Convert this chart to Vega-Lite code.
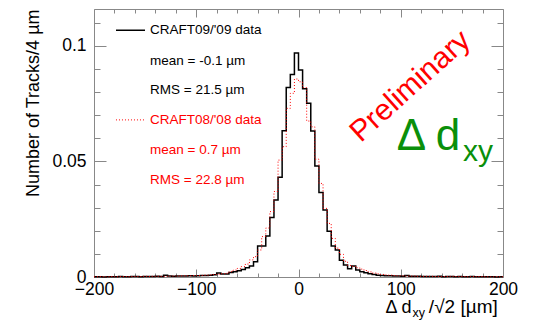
{
  "$schema": "https://vega.github.io/schema/vega-lite/v6.json",
  "width": 409,
  "height": 268,
  "autosize": {"type": "none"},
  "padding": {"left": 94, "top": 9, "right": 32, "bottom": 45},
  "background": "white",
  "config": {"view": {"stroke": null}, "font": "Liberation Sans"},
  "data": {"values": [
    {"x": -200, "b": 0.0001, "r": 0.0001}, {"x": -196, "b": 0.0001, "r": 0.0002}, {"x": -192, "b": 0.0000, "r": 0.0001}, {"x": -188, "b": 0.0001, "r": 0.0001},
    {"x": -184, "b": 0.0001, "r": 0.0002}, {"x": -180, "b": 0.0001, "r": 0.0001}, {"x": -176, "b": 0.0002, "r": 0.0002}, {"x": -172, "b": 0.0001, "r": 0.0002},
    {"x": -168, "b": 0.0001, "r": 0.0001}, {"x": -164, "b": 0.0002, "r": 0.0002}, {"x": -160, "b": 0.0002, "r": 0.0002}, {"x": -156, "b": 0.0001, "r": 0.0002},
    {"x": -152, "b": 0.0002, "r": 0.0003}, {"x": -148, "b": 0.0002, "r": 0.0002}, {"x": -144, "b": 0.0002, "r": 0.0003}, {"x": -140, "b": 0.0003, "r": 0.0003},
    {"x": -136, "b": 0.0002, "r": 0.0003}, {"x": -132, "b": 0.0008, "r": 0.0003}, {"x": -128, "b": 0.0004, "r": 0.0004}, {"x": -124, "b": 0.0003, "r": 0.0004},
    {"x": -120, "b": 0.0004, "r": 0.0004}, {"x": -116, "b": 0.0004, "r": 0.0005}, {"x": -112, "b": 0.0004, "r": 0.0005}, {"x": -108, "b": 0.0005, "r": 0.0005},
    {"x": -104, "b": 0.0004, "r": 0.0006}, {"x": -100, "b": 0.0005, "r": 0.0006}, {"x": -96, "b": 0.0006, "r": 0.0007}, {"x": -92, "b": 0.0007, "r": 0.0008},
    {"x": -88, "b": 0.0008, "r": 0.0009}, {"x": -84, "b": 0.0010, "r": 0.0011}, {"x": -80, "b": 0.0017, "r": 0.0012}, {"x": -76, "b": 0.0013, "r": 0.0014},
    {"x": -72, "b": 0.0013, "r": 0.0016}, {"x": -68, "b": 0.0019, "r": 0.0023}, {"x": -64, "b": 0.0023, "r": 0.0030}, {"x": -60, "b": 0.0027, "r": 0.0037},
    {"x": -56, "b": 0.0032, "r": 0.0045}, {"x": -52, "b": 0.0040, "r": 0.0056}, {"x": -48, "b": 0.0048, "r": 0.0074}, {"x": -44, "b": 0.0066, "r": 0.0088},
    {"x": -40, "b": 0.0134, "r": 0.0117}, {"x": -36, "b": 0.0134, "r": 0.0175}, {"x": -32, "b": 0.0177, "r": 0.0212}, {"x": -28, "b": 0.0258, "r": 0.0283},
    {"x": -24, "b": 0.0333, "r": 0.0370}, {"x": -20, "b": 0.0432, "r": 0.0506}, {"x": -16, "b": 0.0633, "r": 0.0564}, {"x": -12, "b": 0.0820, "r": 0.0730},
    {"x": -8, "b": 0.0877, "r": 0.0795}, {"x": -4, "b": 0.0970, "r": 0.0857}, {"x": 0, "b": 0.0896, "r": 0.0845}, {"x": 4, "b": 0.0815, "r": 0.0820},
    {"x": 8, "b": 0.0752, "r": 0.0675}, {"x": 12, "b": 0.0632, "r": 0.0650}, {"x": 16, "b": 0.0480, "r": 0.0510}, {"x": 20, "b": 0.0366, "r": 0.0405},
    {"x": 24, "b": 0.0290, "r": 0.0297}, {"x": 28, "b": 0.0198, "r": 0.0232}, {"x": 32, "b": 0.0134, "r": 0.0167}, {"x": 36, "b": 0.0117, "r": 0.0125},
    {"x": 40, "b": 0.0072, "r": 0.0098}, {"x": 44, "b": 0.0052, "r": 0.0068}, {"x": 48, "b": 0.0036, "r": 0.0050}, {"x": 52, "b": 0.0048, "r": 0.0046},
    {"x": 56, "b": 0.0030, "r": 0.0040}, {"x": 60, "b": 0.0023, "r": 0.0034}, {"x": 64, "b": 0.0018, "r": 0.0028}, {"x": 68, "b": 0.0014, "r": 0.0022},
    {"x": 72, "b": 0.0011, "r": 0.0017}, {"x": 76, "b": 0.0008, "r": 0.0014}, {"x": 80, "b": 0.0006, "r": 0.0011}, {"x": 84, "b": 0.0005, "r": 0.0009},
    {"x": 88, "b": 0.0005, "r": 0.0008}, {"x": 92, "b": 0.0004, "r": 0.0006}, {"x": 96, "b": 0.0004, "r": 0.0005}, {"x": 100, "b": 0.0003, "r": 0.0005},
    {"x": 104, "b": 0.0006, "r": 0.0004}, {"x": 108, "b": 0.0003, "r": 0.0004}, {"x": 112, "b": 0.0003, "r": 0.0004}, {"x": 116, "b": 0.0003, "r": 0.0003},
    {"x": 120, "b": 0.0002, "r": 0.0003}, {"x": 124, "b": 0.0002, "r": 0.0003}, {"x": 128, "b": 0.0002, "r": 0.0003}, {"x": 132, "b": 0.0002, "r": 0.0002},
    {"x": 136, "b": 0.0003, "r": 0.0002}, {"x": 140, "b": 0.0001, "r": 0.0002}, {"x": 144, "b": 0.0002, "r": 0.0002}, {"x": 148, "b": 0.0002, "r": 0.0003},
    {"x": 152, "b": 0.0001, "r": 0.0002}, {"x": 156, "b": 0.0002, "r": 0.0002}, {"x": 160, "b": 0.0001, "r": 0.0002}, {"x": 164, "b": 0.0001, "r": 0.0001},
    {"x": 168, "b": 0.0002, "r": 0.0002}, {"x": 172, "b": 0.0001, "r": 0.0001}, {"x": 176, "b": 0.0001, "r": 0.0002}, {"x": 180, "b": 0.0001, "r": 0.0001},
    {"x": 184, "b": 0.0001, "r": 0.0001}, {"x": 188, "b": 0.0001, "r": 0.0001}, {"x": 192, "b": 0.0000, "r": 0.0001}, {"x": 196, "b": 0.0001, "r": 0.0001},
    {"x": 200, "b": 0.0001, "r": 0.0001}
  ]},
  "resolve": {"axis": {"x": "independent", "y": "independent"}},
  "layer": [
    {
      "mark": {"type": "line", "interpolate": "step-after", "color": "black", "strokeWidth": 1.5},
      "encoding": {
        "x": {"field": "x", "type": "quantitative",
          "scale": {"domain": [-200, 200], "nice": false, "zero": false},
          "axis": {"orient": "bottom", "title": null, "grid": false,
            "values": [-200,-180,-160,-140,-120,-100,-80,-60,-40,-20,0,20,40,60,80,100,120,140,160,180,200],
            "tickSize": {"condition": {"test": "datum.value % 100 === 0", "value": -8}, "value": -4},
            "labelExpr": "datum.value % 100 === 0 ? datum.label : ''",
            "labelFontSize": 17.5, "labelColor": "black", "labelPadding": 11, "labelFlush": false, "labelOverlap": false,
            "tickColor": "#888", "domainColor": "#888", "tickWidth": 1, "domainWidth": 1}},
        "y": {"field": "b", "type": "quantitative",
          "scale": {"domain": [0, 0.116], "nice": false, "zero": true},
          "axis": {"orient": "left", "grid": false,
            "values": [0,0.01,0.02,0.03,0.04,0.05,0.06,0.07,0.08,0.09,0.1,0.11],
            "tickSize": {"condition": {"test": "round(datum.value*100) % 5 === 0", "value": -12}, "value": -6},
            "labelExpr": "round(datum.value*100) % 5 === 0 ? format(datum.value, '.2~f') : ''",
            "labelFontSize": 17.5, "labelColor": "black", "labelPadding": 20, "labelFlush": false, "labelOverlap": false,
            "tickColor": "#888", "domainColor": "#888", "tickWidth": 1, "domainWidth": 1,
            "title": "Number of Tracks/4 µm", "titleFontSize": 18, "titleFontWeight": "normal", "titleColor": "black",
            "titleAngle": -90, "titleX": -56, "titleY": 0, "titleAlign": "right", "titleBaseline": "alphabetic", "titleAnchor": "end"}}
      }
    },
    {
      "mark": {"type": "line", "interpolate": "step-after", "color": "#ff0000", "strokeWidth": 1, "strokeDash": [1, 2]},
      "encoding": {
        "x": {"field": "x", "type": "quantitative",
          "axis": {"orient": "top", "title": null, "grid": false, "labels": false,
            "values": [-200,-180,-160,-140,-120,-100,-80,-60,-40,-20,0,20,40,60,80,100,120,140,160,180,200],
            "tickSize": {"condition": {"test": "datum.value % 100 === 0", "value": -8}, "value": -4},
            "tickColor": "#888", "domainColor": "#888", "tickWidth": 1, "domainWidth": 1}},
        "y": {"field": "r", "type": "quantitative",
          "axis": {"orient": "right", "title": null, "grid": false, "labels": false,
            "values": [0,0.01,0.02,0.03,0.04,0.05,0.06,0.07,0.08,0.09,0.1,0.11],
            "tickSize": {"condition": {"test": "round(datum.value*100) % 5 === 0", "value": -12}, "value": -6},
            "tickColor": "#888", "domainColor": "#888", "tickWidth": 1, "domainWidth": 1}}
      }
    },
    {
      "data": {"values": [{}]},
      "mark": {"type": "rule", "color": "black", "strokeWidth": 1.5},
      "encoding": {"x": {"datum": -178.5, "type": "quantitative", "axis": null}, "x2": {"datum": -150.1}, "y": {"datum": 0.1068, "type": "quantitative", "axis": null}}
    },
    {
      "data": {"values": [{}]},
      "mark": {"type": "rule", "color": "#ff0000", "strokeWidth": 1, "strokeDash": [1, 2]},
      "encoding": {"x": {"datum": -178.5, "type": "quantitative", "axis": null}, "x2": {"datum": -150.1}, "y": {"datum": 0.068, "type": "quantitative", "axis": null}}
    },
    {"data": {"values": [{}]}, "mark": {"type": "text", "text": "CRAFT09/'09 data", "align": "left", "baseline": "middle", "fontSize": 13.5, "color": "black"},
     "encoding": {"x": {"datum": -145.2, "type": "quantitative", "axis": null}, "y": {"datum": 0.1068, "type": "quantitative", "axis": null}}},
    {"data": {"values": [{}]}, "mark": {"type": "text", "text": "mean = -0.1 µm", "align": "left", "baseline": "middle", "fontSize": 13.5, "color": "black"},
     "encoding": {"x": {"datum": -145.2, "type": "quantitative", "axis": null}, "y": {"datum": 0.0935, "type": "quantitative", "axis": null}}},
    {"data": {"values": [{}]}, "mark": {"type": "text", "text": "RMS = 21.5 µm", "align": "left", "baseline": "middle", "fontSize": 13.5, "color": "black"},
     "encoding": {"x": {"datum": -145.2, "type": "quantitative", "axis": null}, "y": {"datum": 0.081, "type": "quantitative", "axis": null}}},
    {"data": {"values": [{}]}, "mark": {"type": "text", "text": "CRAFT08/'08 data", "align": "left", "baseline": "middle", "fontSize": 13.5, "color": "#ff0000"},
     "encoding": {"x": {"datum": -145.2, "type": "quantitative", "axis": null}, "y": {"datum": 0.068, "type": "quantitative", "axis": null}}},
    {"data": {"values": [{}]}, "mark": {"type": "text", "text": "mean = 0.7 µm", "align": "left", "baseline": "middle", "fontSize": 13.5, "color": "#ff0000"},
     "encoding": {"x": {"datum": -145.2, "type": "quantitative", "axis": null}, "y": {"datum": 0.055, "type": "quantitative", "axis": null}}},
    {"data": {"values": [{}]}, "mark": {"type": "text", "text": "RMS = 22.8 µm", "align": "left", "baseline": "middle", "fontSize": 13.5, "color": "#ff0000"},
     "encoding": {"x": {"datum": -145.2, "type": "quantitative", "axis": null}, "y": {"datum": 0.042, "type": "quantitative", "axis": null}}},
    {"data": {"values": [{}]}, "mark": {"type": "text", "text": "Preliminary", "align": "center", "baseline": "middle", "fontSize": 30, "angle": -42, "color": "#ff0000"},
     "encoding": {"x": {"datum": 109.5, "type": "quantitative", "axis": null}, "y": {"datum": 0.0825, "type": "quantitative", "axis": null}}},
    {"data": {"values": [{}]}, "mark": {"type": "text", "text": "Δ d", "align": "left", "baseline": "alphabetic", "fontSize": 44, "color": "#0a8f0a"},
     "encoding": {"x": {"datum": 96, "type": "quantitative", "axis": null}, "y": {"datum": 0.055, "type": "quantitative", "axis": null}}},
    {"data": {"values": [{}]}, "mark": {"type": "text", "text": "xy", "align": "left", "baseline": "alphabetic", "fontSize": 30, "color": "#0a8f0a"},
     "encoding": {"x": {"datum": 160.9, "type": "quantitative", "axis": null}, "y": {"datum": 0.0503, "type": "quantitative", "axis": null}}},
    {"data": {"values": [{}]}, "mark": {"type": "text", "text": "Δ d", "align": "right", "baseline": "alphabetic", "fontSize": 18, "color": "black"},
     "encoding": {"x": {"datum": 110.5, "type": "quantitative", "axis": null}, "y": {"datum": -0.0156, "type": "quantitative", "axis": null}}},
    {"data": {"values": [{}]}, "mark": {"type": "text", "text": "xy", "align": "left", "baseline": "alphabetic", "fontSize": 12.5, "color": "black"},
     "encoding": {"x": {"datum": 111.5, "type": "quantitative", "axis": null}, "y": {"datum": -0.0173, "type": "quantitative", "axis": null}}},
    {"data": {"values": [{}]}, "mark": {"type": "text", "text": "/√2 [µm]", "align": "left", "baseline": "alphabetic", "fontSize": 19, "color": "black"},
     "encoding": {"x": {"datum": 127.5, "type": "quantitative", "axis": null}, "y": {"datum": -0.0156, "type": "quantitative", "axis": null}}}
  ]
}
